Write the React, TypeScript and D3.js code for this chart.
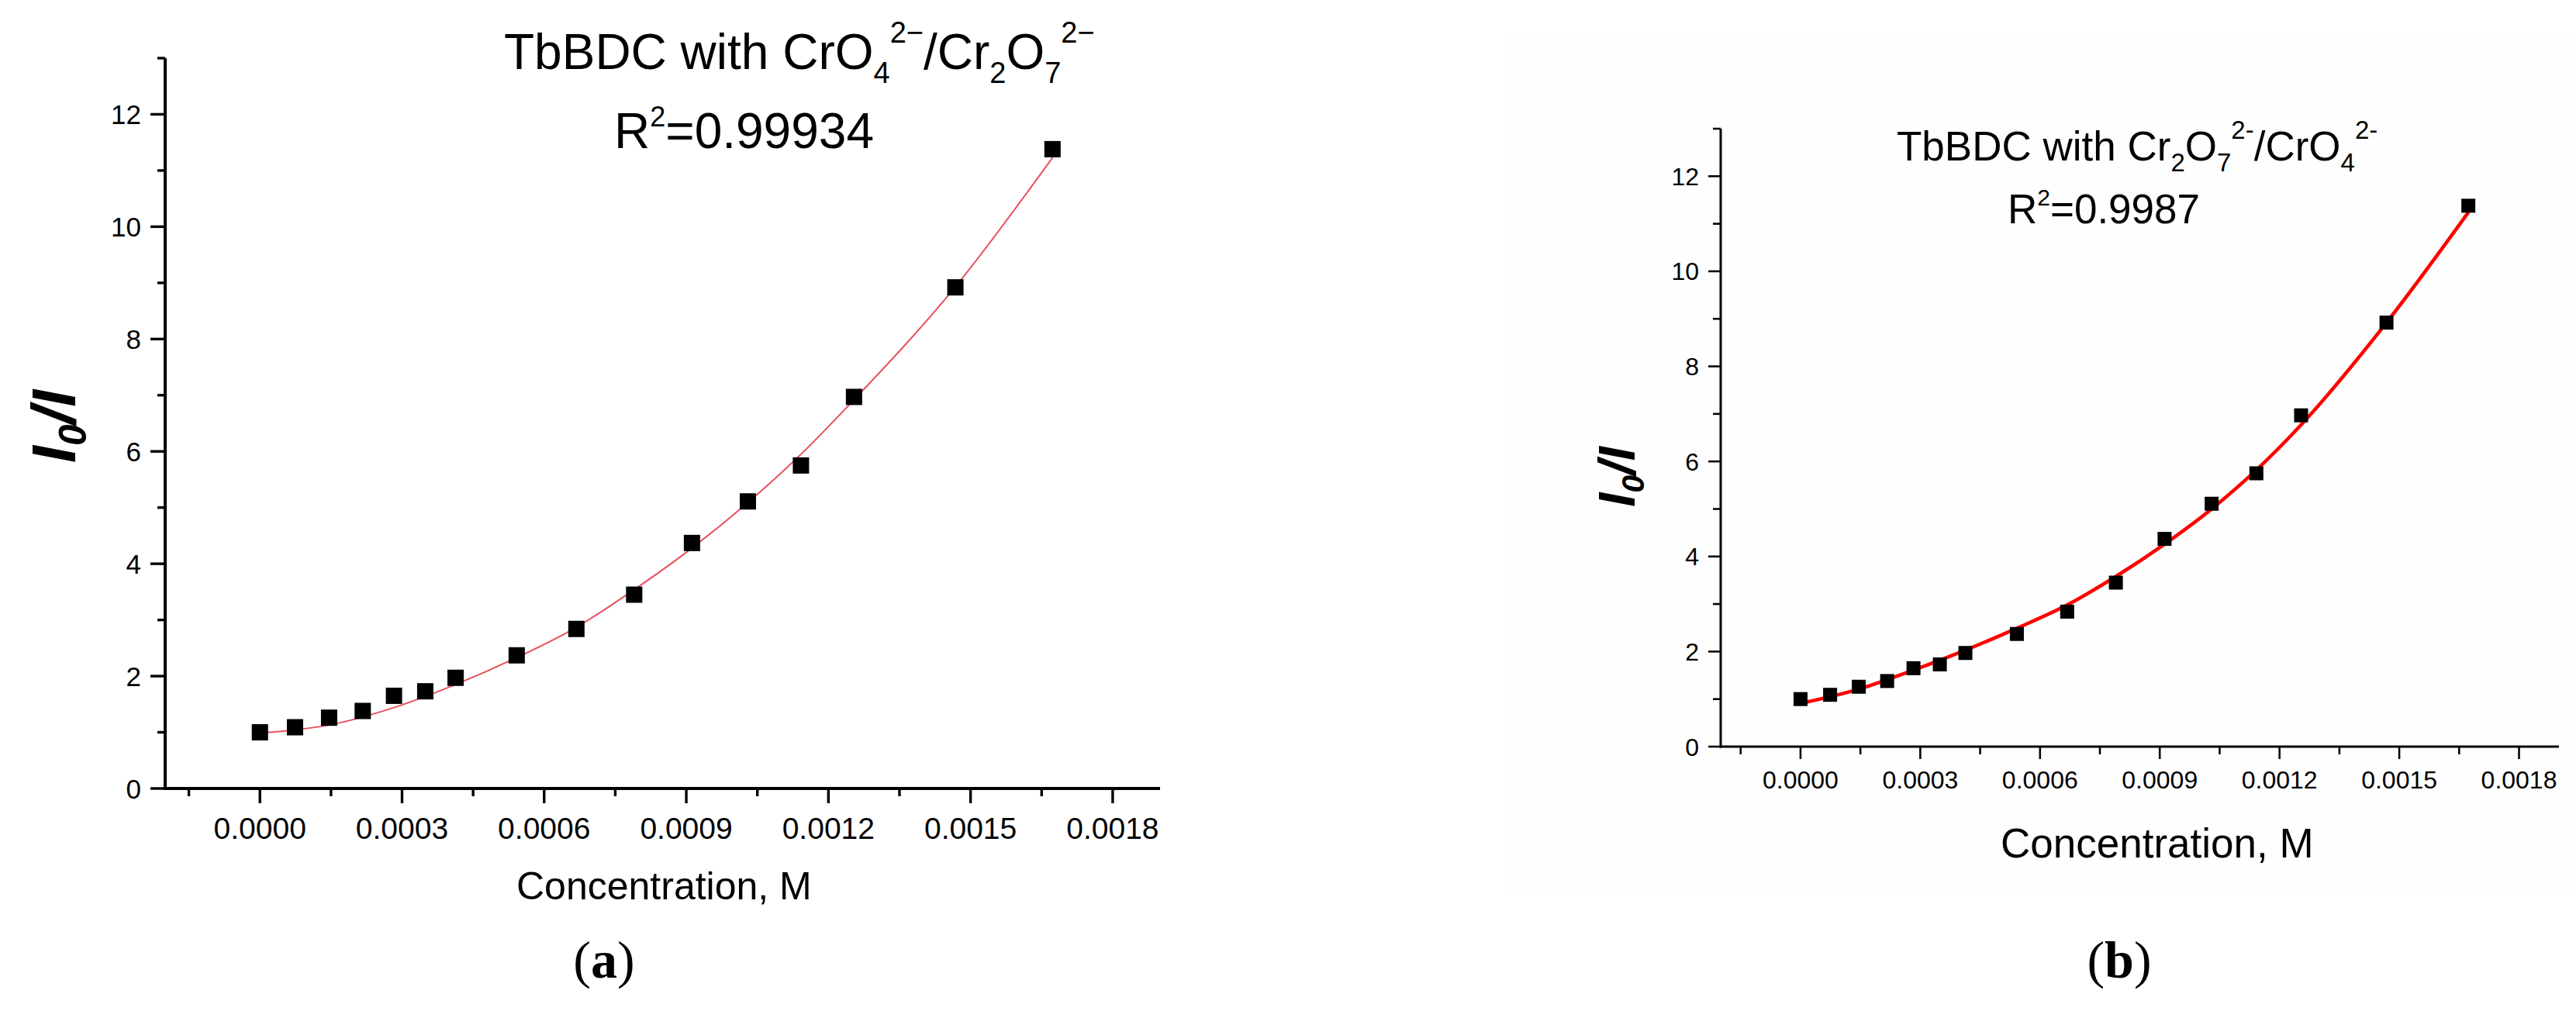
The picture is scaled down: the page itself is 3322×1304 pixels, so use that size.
import React from "react";
import * as d3 from "d3";

// ---- data ----
const concentration = [0, 0.0000741, 0.000146, 0.000217, 0.000283, 0.000349, 0.000413, 0.000542, 0.000668, 0.00079, 0.000912, 0.00103, 0.001142, 0.001254, 0.001468, 0.001673];
const ratioI0I = [1.0, 1.09, 1.26, 1.38, 1.65, 1.73, 1.97, 2.37, 2.84, 3.45, 4.37, 5.11, 5.75, 6.97, 8.92, 11.38];

const fitAX = [0, 0.00007, 0.000146, 0.000283, 0.000413, 0.000542, 0.000668, 0.00079, 0.000912, 0.00103, 0.001142, 0.001254, 0.001468, 0.001673];
const fitAY = [0.99, 1.04, 1.13, 1.44, 1.85, 2.33, 2.87, 3.54, 4.28, 5.09, 5.95, 6.92, 8.93, 11.23];

const fitBX = [0, 0.000146, 0.000283, 0.000413, 0.000542, 0.000668, 0.00079, 0.000912, 0.00103, 0.001142, 0.001254, 0.001468, 0.001673];
const fitBY = [0.91, 1.21, 1.61, 2.03, 2.49, 2.98, 3.58, 4.26, 5.0, 5.82, 6.77, 8.92, 11.24];

const xDomain = [-0.0002, 0.0019];
const yDomain = [0, 13];
const xMajorTicks = [0, 0.0003, 0.0006, 0.0009, 0.0012, 0.0015, 0.0018];
const xTickLabels = ["0.0000", "0.0003", "0.0006", "0.0009", "0.0012", "0.0015", "0.0018"];
const xMinorTicks = [-0.00015, 0.00015, 0.00045, 0.00075, 0.00105, 0.00135, 0.00165];
const yMajorTicks = [0, 2, 4, 6, 8, 10, 12];
const yTickLabels = ["0", "2", "4", "6", "8", "10", "12"];
const yMinorTicks = [1, 3, 5, 7, 9, 11, 13];
const xAxisTitle = "Concentration, M";

const FONT = "'Liberation Sans', Arial, sans-serif";

type Layout = {
  left: number; right: number; bottom: number; top: number;
  axisW: number; majorLen: number; minorLen: number;
  xTickFont: number; xTickBaseline: number;
  yTickFont: number; yTickRight: number;
  marker: number; fitColor: string; fitWidth: number;
  fitX: number[]; fitY: number[];
  xTitleX: number; xTitleY: number; xTitleFont: number;
  yTitleX: number; yTitleY: number; yTitleFont: number;
  panelLabelX: number; panelLabel: string;
};

function Panel({ L, children }: { L: Layout; children?: React.ReactNode }) {
  const x = d3.scaleLinear().domain(xDomain).range([L.left, L.right]);
  const y = d3.scaleLinear().domain(yDomain).range([L.bottom, L.top]);
  const pts = L.fitX.map((v, i) => [v, L.fitY[i]] as [number, number]);
  const line = d3.line<[number, number]>().x(d => x(d[0])).y(d => y(d[1])).curve(d3.curveMonotoneX);
  const sq = L.marker;
  return (
    <g>
      <path d={line(pts) || ""} fill="none" stroke={L.fitColor} strokeWidth={L.fitWidth} strokeLinecap="round" />
      {concentration.map((c, i) => (
        <rect key={i} x={x(c) - sq / 2} y={y(ratioI0I[i]) - sq / 2} width={sq} height={sq} fill="#000" />
      ))}
      <line x1={L.left} x2={L.left} y1={y(yDomain[1])} y2={L.bottom + L.axisW / 2} stroke="#000" strokeWidth={L.axisW} />
      <line x1={L.left - L.axisW / 2} x2={L.right} y1={L.bottom} y2={L.bottom} stroke="#000" strokeWidth={L.axisW} />
      {xMajorTicks.map((t, i) => (
        <g key={"xm" + i}>
          <line x1={x(t)} x2={x(t)} y1={L.bottom} y2={L.bottom + L.majorLen} stroke="#000" strokeWidth={L.axisW * 0.85} />
          <text x={x(t)} y={L.xTickBaseline} fontSize={L.xTickFont} fontFamily={FONT} textAnchor="middle" fill="#000">{xTickLabels[i]}</text>
        </g>
      ))}
      {xMinorTicks.map((t, i) => (
        <line key={"xn" + i} x1={x(t)} x2={x(t)} y1={L.bottom} y2={L.bottom + L.minorLen} stroke="#000" strokeWidth={L.axisW * 0.85} />
      ))}
      {yMajorTicks.map((t, i) => (
        <g key={"ym" + i}>
          <line x1={L.left - L.majorLen} x2={L.left} y1={y(t)} y2={y(t)} stroke="#000" strokeWidth={L.axisW * 0.85} />
          <text x={L.yTickRight} y={y(t) + L.yTickFont * 0.36} fontSize={L.yTickFont} fontFamily={FONT} textAnchor="end" fill="#000">{yTickLabels[i]}</text>
        </g>
      ))}
      {yMinorTicks.map((t, i) => (
        <line key={"yn" + i} x1={L.left - L.minorLen} x2={L.left} y1={y(t)} y2={y(t)} stroke="#000" strokeWidth={L.axisW * 0.85} />
      ))}
      <text x={L.xTitleX} y={L.xTitleY} fontSize={L.xTitleFont} fontFamily={FONT} fill="#000">{xAxisTitle}</text>
      <text transform={`translate(${L.yTitleX},${L.yTitleY}) rotate(-90)`} textAnchor="middle" fontSize={L.yTitleFont} fontFamily={FONT} fontStyle="italic" fontWeight="bold" fill="#000">
        I<tspan fontSize={L.yTitleFont * 0.62} dy={L.yTitleFont * 0.18}>0</tspan><tspan dy={-L.yTitleFont * 0.18}>/I</tspan>
      </text>
      <text x={L.panelLabelX} y={1261} fontSize={68} fontFamily="'Liberation Serif', 'Times New Roman', serif" textAnchor="middle" fill="#000">
        (<tspan fontWeight="bold">{L.panelLabel}</tspan>)
      </text>
      {children}
    </g>
  );
}

const layoutA: Layout = {
  left: 213, right: 1496, bottom: 1017, top: 75,
  axisW: 4, majorLen: 19, minorLen: 10,
  xTickFont: 39, xTickBaseline: 1082,
  yTickFont: 35, yTickRight: 182,
  marker: 21, fitColor: "#e8505c", fitWidth: 2,
  fitX: fitAX, fitY: fitAY,
  xTitleX: 666, xTitleY: 1160, xTitleFont: 50,
  yTitleX: 97, yTitleY: 550, yTitleFont: 80,
  panelLabelX: 779, panelLabel: "a",
};

const layoutB: Layout = {
  left: 2219, right: 3300, bottom: 963, top: 166,
  axisW: 3, majorLen: 16, minorLen: 10,
  xTickFont: 32, xTickBaseline: 1017,
  yTickFont: 32, yTickRight: 2191,
  marker: 18, fitColor: "#ff0000", fitWidth: 4.5,
  fitX: fitBX, fitY: fitBY,
  xTitleX: 2580, xTitleY: 1106, xTitleFont: 53,
  yTitleX: 2108, yTitleY: 615, yTitleFont: 66,
  panelLabelX: 2733, panelLabel: "b",
};

export default function App() {
  return (
    <div style={{ position: "absolute", left: 0, top: 0, width: 3322, height: 1304, background: "#fff" }}>
      <svg width={3322} height={1304} style={{ display: "block" }}>
        <rect x={0} y={0} width={3322} height={1304} fill="#fff" />
        <rect x={1939} y={42} width={1383} height={1108} fill="#fefefe" />
        <Panel L={layoutA}>
          <text x={650} y={89} fontSize={64} fontFamily={FONT} fill="#000">
            TbBDC with CrO<tspan fontSize={38} dy={18}>4</tspan><tspan fontSize={38} dy={-52}>2−</tspan><tspan fontSize={64} dy={34}>/Cr</tspan><tspan fontSize={38} dy={18}>2</tspan><tspan fontSize={64} dy={-18}>O</tspan><tspan fontSize={38} dy={18}>7</tspan><tspan fontSize={38} dy={-52}>2−</tspan>
          </text>
          <text x={792} y={191} fontSize={64} fontFamily={FONT} fill="#000">
            R<tspan fontSize={36} dy={-28}>2</tspan><tspan fontSize={64} dy={28}>=0.99934</tspan>
          </text>
        </Panel>
        <Panel L={layoutB}>
          <text x={2446} y={207} fontSize={53} fontFamily={FONT} fill="#000">
            TbBDC with Cr<tspan fontSize={33} dy={14}>2</tspan><tspan fontSize={53} dy={-14}>O</tspan><tspan fontSize={33} dy={14}>7</tspan><tspan fontSize={33} dy={-42}>2-</tspan><tspan fontSize={53} dy={28}>/CrO</tspan><tspan fontSize={33} dy={14}>4</tspan><tspan fontSize={33} dy={-42}>2-</tspan>
          </text>
          <text x={2589} y={288} fontSize={53} fontFamily={FONT} fill="#000">
            R<tspan fontSize={30} dy={-23}>2</tspan><tspan fontSize={53} dy={23}>=0.9987</tspan>
          </text>
        </Panel>
      </svg>
    </div>
  );
}
